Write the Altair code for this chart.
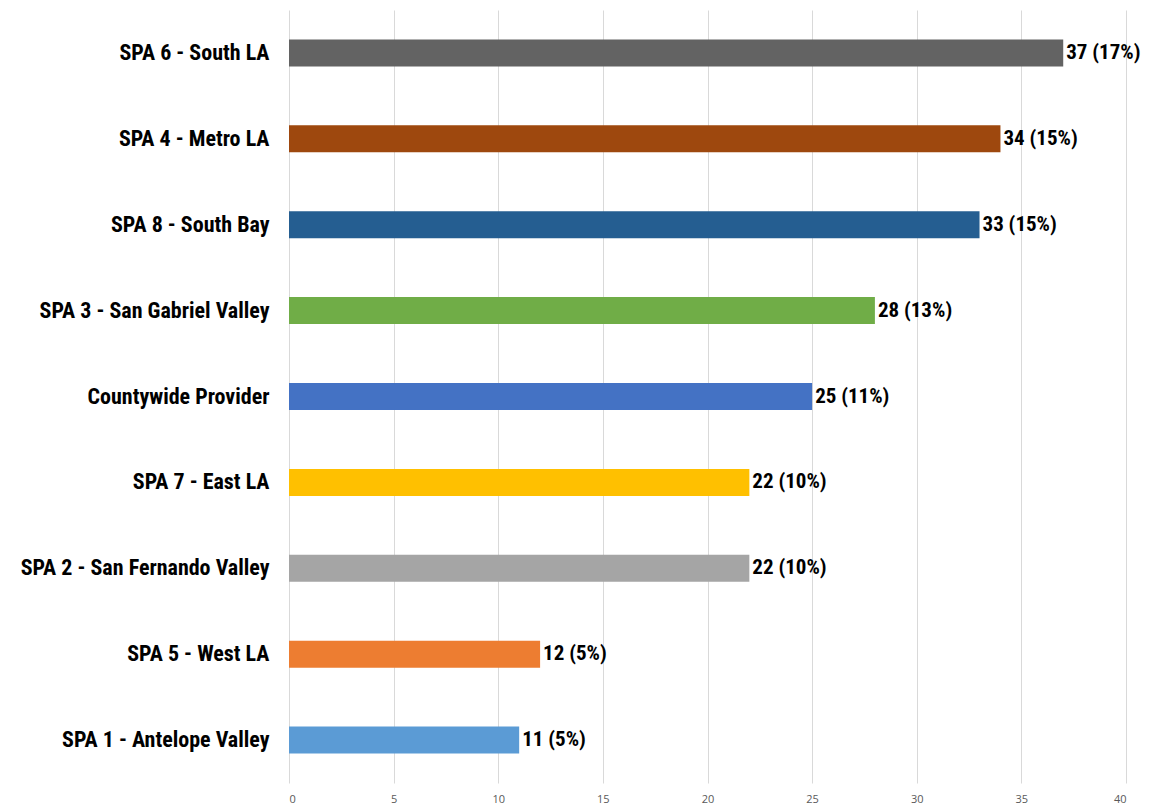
import altair as alt
import pandas as pd

categories = ["SPA 6 - South LA", "SPA 4 - Metro LA", "SPA 8 - South Bay",
              "SPA 3 - San Gabriel Valley", "Countywide Provider", "SPA 7 - East LA",
              "SPA 2 - San Fernando Valley", "SPA 5 - West LA", "SPA 1 - Antelope Valley"]
values = [37, 34, 33, 28, 25, 22, 22, 12, 11]
labels = ["37 (17%)", "34 (15%)", "33 (15%)", "28 (13%)", "25 (11%)",
          "22 (10%)", "22 (10%)", "12 (5%)", "11 (5%)"]
colors = ["#636363", "#9E480E", "#255E91", "#70AD47", "#4472C4",
          "#FFC000", "#A5A5A5", "#ED7D31", "#5B9BD5"]

df = pd.DataFrame({"cat": categories, "val": values, "lab": labels, "col": colors})

FONT = "Liberation Sans Narrow, Roboto Condensed, DejaVu Sans Condensed, Liberation Sans"

y = alt.Y("cat:N", sort=categories, title=None,
          scale=alt.Scale(paddingInner=0, paddingOuter=0),
          axis=alt.Axis(labelFont=FONT, labelFontSize=22, labelFontWeight="bold",
                        labelColor="#000000", labelPadding=20, ticks=False,
                        domain=False, grid=False, labelLimit=400))
x = alt.X("val:Q", title=None, scale=alt.Scale(domain=[0, 40], nice=False),
          axis=alt.Axis(values=list(range(0, 41, 5)), labelFontSize=11,
                        labelColor="#595959", labelFont="Open Sans",
                        ticks=False, domain=False, grid=True, gridColor="#d9d9d9",
                        gridWidth=1, labelPadding=10))

bars = alt.Chart(df).mark_bar(size=27).encode(
    x=x, y=y, color=alt.Color("col:N", scale=None)
)
text = alt.Chart(df).mark_text(align="left", baseline="middle", dx=3,
                               font=FONT, fontSize=21, fontWeight="bold",
                               color="#000000").encode(
    x=x, y=y, text="lab:N"
)

chart = (bars + text).properties(
    width=837, height=773,
    background="#ffffff",
    autosize=alt.AutoSizeParams(type="none"),
    padding={"left": 281, "top": 2, "right": 20, "bottom": 30},
).configure_view(strokeWidth=0, stroke="transparent")

chart.save("out.html", embed_options={"renderer": "svg", "actions": False})
